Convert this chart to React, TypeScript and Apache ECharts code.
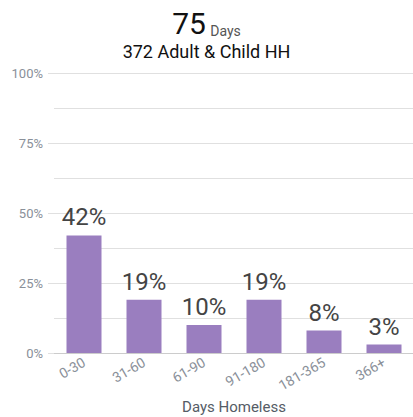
import React, { useEffect, useRef } from "react";
import * as echarts from "echarts";

const categories = ["0-30", "31-60", "61-90", "91-180", "181-365", "366+"];
const values = [42, 19, 10, 19, 8, 3];
const headlineValue = "75";
const headlineUnit = "Days";
const subtitle = "372 Adult & Child HH";
const xAxisName = "Days Homeless";

export default function App() {
  const ref = useRef<HTMLDivElement>(null);
  useEffect(() => {
    const chart = echarts.init(ref.current!, null, { renderer: "svg" });
    chart.setOption({
      animation: false,
      textStyle: { fontFamily: "Roboto" },
      title: [
        {
          left: "center",
          top: 3,
          text: `{big|${headlineValue}} {small|${headlineUnit}}`,
          textStyle: {
            fontWeight: "normal",
            rich: {
              big: { fontSize: 30, color: "#111", fontFamily: "Roboto", fontWeight: "normal", lineHeight: 30 },
              small: { fontSize: 14, color: "#555", fontFamily: "Roboto", fontWeight: "normal", lineHeight: 30, verticalAlign: "bottom" },
            },
          },
        },
        {
          left: "center",
          top: 37,
          text: subtitle,
          textStyle: { fontSize: 18, color: "#111", fontFamily: "Roboto", fontWeight: "normal" },
        },
      ],
      grid: { left: 54, right: -1, top: 73, bottom: 64, containLabel: false, outerBoundsMode: "none" },
      xAxis: {
        type: "category",
        data: categories,
        name: xAxisName,
        nameLocation: "middle",
        nameGap: 46,
        nameTextStyle: { fontSize: 15, color: "#555c66", fontFamily: "Roboto" },
        axisLine: { lineStyle: { color: "#ccc" } },
        axisTick: { alignWithLabel: false, length: 5, lineStyle: { color: "#ccc" } },
        axisLabel: { rotate: 30, color: "#8a9099", fontSize: 14, margin: 8, interval: 0 },
      },
      yAxis: [
        {
          type: "value",
          min: 0,
          max: 100,
          interval: 12.5,
          axisLabel: { show: false },
          axisLine: { show: false },
          axisTick: { show: false },
          splitLine: { lineStyle: { color: "#e0e0e0" } },
        },
        {
          type: "value",
          position: "left",
          min: 0,
          max: 100,
          interval: 25,
          axisLabel: { formatter: "{value}%", color: "#8a9099", fontSize: 13, margin: 11 },
          axisLine: { show: false },
          axisTick: { show: true, length: 6, lineStyle: { color: "#e0e0e0" } },
          splitLine: { show: false },
        },
      ],
      series: [
        {
          type: "bar",
          data: values,
          barWidth: 35,
          itemStyle: { color: "#9a7ebf" },
          label: {
            show: true,
            position: "top",
            formatter: "{c}%",
            fontSize: 24,
            color: "#444",
            distance: 6,
          },
        },
      ],
    });
    return () => chart.dispose();
  }, []);
  return (
    <div
      ref={ref}
      style={{ position: "absolute", left: 0, top: 0, width: 413, height: 417 }}
    />
  );
}
